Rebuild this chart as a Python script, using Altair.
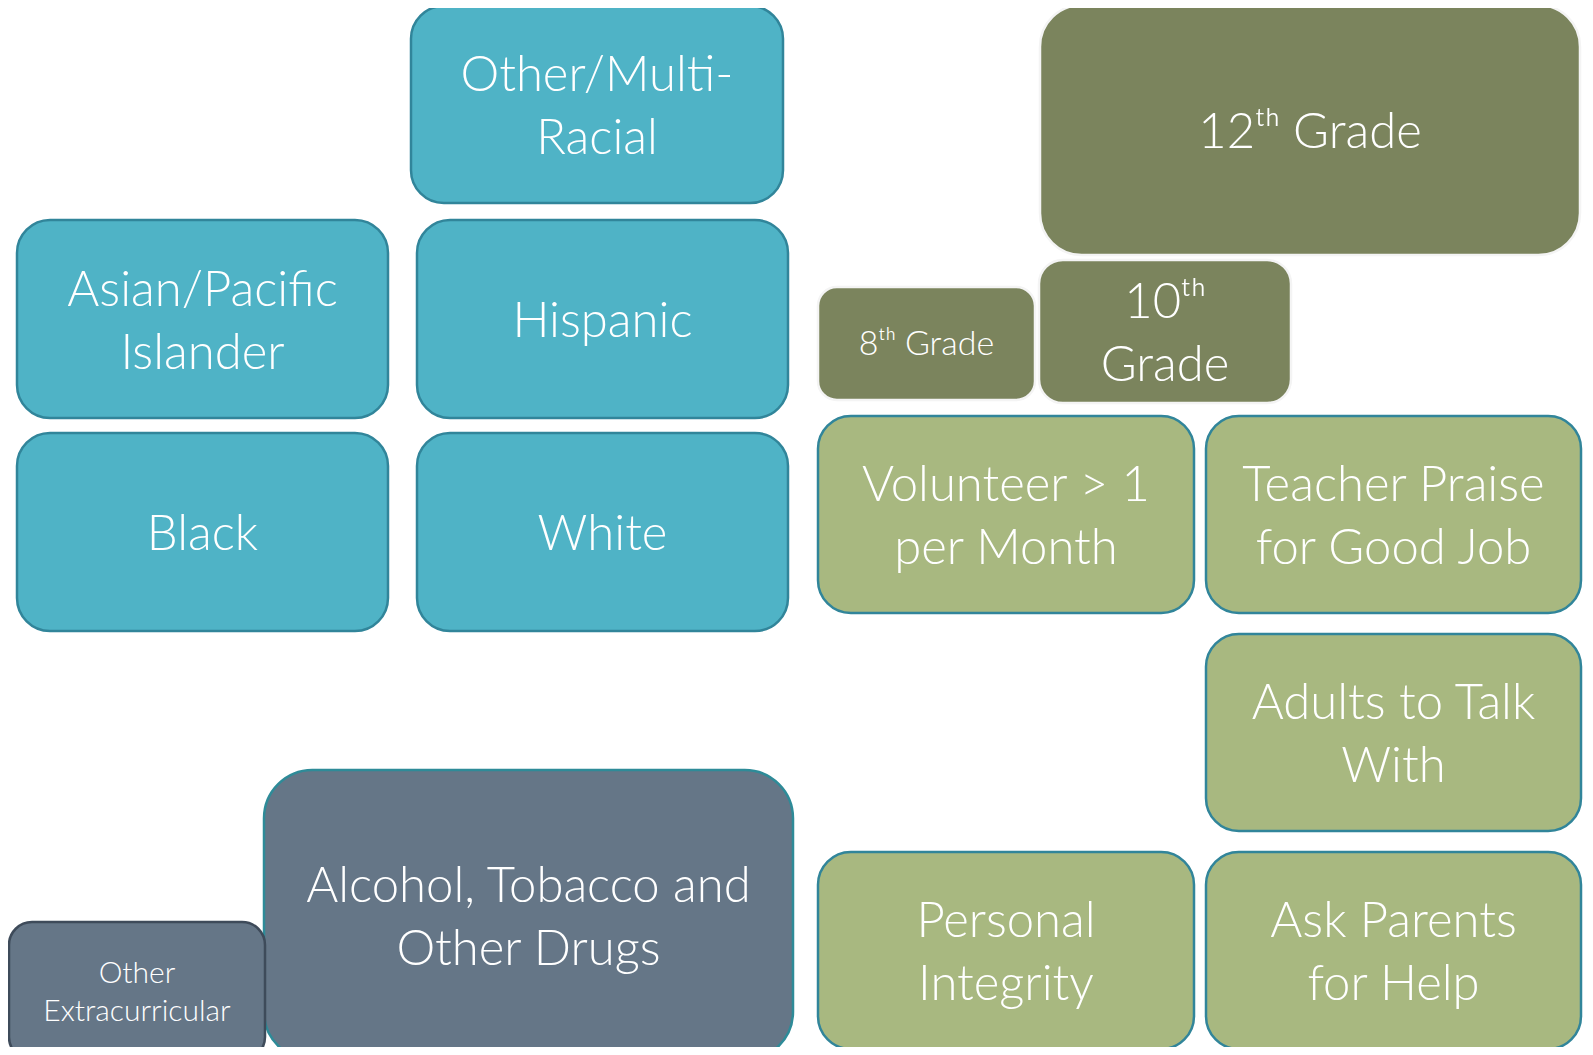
import altair as alt
import pandas as pd

labels = ["Other/Multi-\nRacial", "Asian/Pacific\nIslander", "Hispanic", "Black", "White",
          "12ᵗʰ Grade", "8ᵗʰ Grade", "10ᵗʰ\nGrade",
          "Volunteer > 1\nper Month", "Teacher Praise\nfor Good Job", "Adults to Talk\nWith",
          "Personal\nIntegrity", "Ask Parents\nfor Help",
          "Alcohol, Tobacco and\nOther Drugs", "Other\nExtracurricular"]
groups = ["race"] * 5 + ["grade"] * 3 + ["asset"] * 5 + ["risk", "other"]
x_left = [411, 17, 417, 17, 417, 1040, 818, 1039, 818, 1206, 1206, 818, 1206, 264, 9]
x_right = [783, 388, 788, 388, 788, 1580, 1035, 1291, 1194, 1581, 1581, 1194, 1581, 793, 265]
y_top = [6, 220, 220, 433, 433, 5, 287, 260, 416, 416, 634, 852, 852, 770, 922]
y_bottom = [203, 418, 418, 631, 631, 255, 400, 403, 613, 613, 831, 1049, 1049, 1060, 1060]
font_sizes = [49] * 6 + [34, 49] + [49] * 6 + [30]

group_names = ["race", "grade", "asset", "risk", "other"]
group_fill = ["#4FB3C6", "#7B845D", "#A8B880", "#657687", "#657687"]
group_stroke = ["#31859A", "#F4F4F4", "#31859A", "#2E8B98", "#3E4B5A"]

df = pd.DataFrame({
    "idx": list(range(len(labels))),
    "label": labels,
    "group": groups,
    "x0": x_left, "x1": x_right, "y0": y_top, "y1": y_bottom,
    "fs": font_sizes,
})
df["cx"] = (df["x0"] + df["x1"]) / 2
df["cy"] = (df["y0"] + df["y1"]) / 2
df["nl"] = df["label"].str.count("\n") + 1

W, H = 1577, 1039
xs = alt.Scale(domain=[8, 8 + W], nice=False, zero=False)
ys = alt.Scale(domain=[8, 8 + H], nice=False, zero=False, reverse=True)
fill_scale = alt.Scale(domain=group_names, range=group_fill)
stroke_scale = alt.Scale(domain=group_names, range=group_stroke)

base = alt.Chart(df)
layers = []
for i in range(len(labels)):
    r = 0.1667 * min(x_right[i] - x_left[i], y_bottom[i] - y_top[i])
    layers.append(
        base.transform_filter(alt.datum.idx == i)
        .mark_rect(cornerRadius=r, strokeWidth=2.5, clip=True)
        .encode(
            x=alt.X("x0:Q", scale=xs, axis=None),
            x2="x1:Q",
            y=alt.Y("y0:Q", scale=ys, axis=None),
            y2="y1:Q",
            fill=alt.Fill("group:N", scale=fill_scale, legend=None),
            stroke=alt.Stroke("group:N", scale=stroke_scale, legend=None),
        )
    )

# (font size, line height, font-metric nudge)
for fs, lh, nudge in [(49, 63, 3), (34, 38, 1), (30, 38, 2)]:
    layers.append(
        base.transform_filter(alt.datum.fs == fs)
        .transform_calculate(ty=f"datum.cy - (datum.nl - 1) / 2 * {lh} + {nudge}")
        .mark_text(font="Lato", fontWeight=300, fontSize=fs, lineHeight=lh,
                   lineBreak="\n", color="white", align="center", baseline="middle", clip=True)
        .encode(
            x=alt.X("cx:Q", scale=xs, axis=None),
            y=alt.Y("ty:Q", scale=ys, axis=None),
            text="label:N",
        )
    )

chart = alt.layer(*layers).properties(
    width=W, height=H,
    autosize=alt.AutoSizeParams(type="fit", contains="padding"),
    padding=0,
).configure_view(stroke=None)

chart.save("out.html", embed_options={"renderer": "svg", "actions": False})
